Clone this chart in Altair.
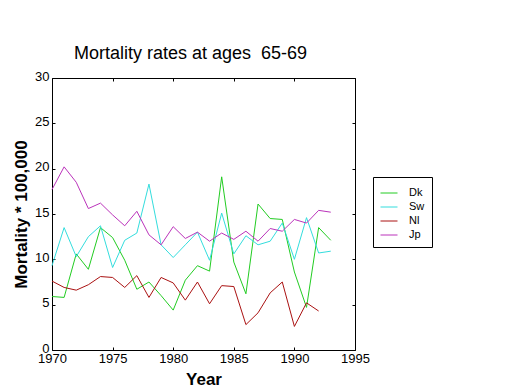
import altair as alt
import pandas as pd

years = list(range(1970, 1994))
countries = ["Dk", "Sw", "Nl", "Jp"]
colors = ["#22cc22", "#33dddd", "#aa1111", "#bb33bb"]

dk = [5.9, 5.8, 10.6, 8.9, 13.5, 12.4, 9.9, 6.7, 7.5, 6.0, 4.4, 7.7, 9.3, 8.7,
      19.1, 9.7, 6.2, 16.1, 14.5, 14.4, 8.6, 4.7, 13.5, 12.1]
sw = [9.3, 13.5, 10.3, 12.5, 13.7, 9.1, 12.1, 12.9, 18.3, 11.6, 10.2, 11.6, 13.0, 9.9,
      15.1, 10.6, 12.6, 11.6, 12.0, 14.0, 10.0, 14.6, 10.7, 10.9]
nl = [7.6, 6.9, 6.6, 7.2, 8.1, 8.0, 6.9, 8.2, 5.8, 8.0, 7.4, 5.5, 7.5, 5.1,
      7.1, 7.0, 2.8, 4.1, 6.3, 7.5, 2.6, 5.2, 4.3]
jp = [17.7, 20.2, 18.5, 15.6, 16.2, 14.9, 13.7, 15.3, 12.7, 11.6, 13.6, 12.3, 13.0, 12.0,
      12.9, 12.2, 13.1, 12.0, 13.4, 13.1, 14.4, 14.0, 15.4, 15.2]

x_ticks = [1970, 1975, 1980, 1985, 1990, 1995]
y_ticks = [0, 5, 10, 15, 20, 25, 30]

rows = []
for name, vals in zip(countries, [dk, sw, nl, jp]):
    for yr, v in zip(years, vals):
        rows.append({"year": yr, "value": v, "country": name})
df = pd.DataFrame(rows)

FONT = "Liberation Sans"

xscale = alt.Scale(domain=[1970, 1995], nice=False, zero=False)
yscale = alt.Scale(domain=[0, 30], nice=False)

lines = alt.Chart(df).mark_line(strokeWidth=1).encode(
    x=alt.X("year:Q", scale=xscale,
            axis=alt.Axis(orient="bottom", values=x_ticks, format="d", title="Year",
                          offset=-3, tickSize=3, domain=False, grid=False,
                          labelFlush=False, labelPadding=2, titlePadding=6,
                          titleFontSize=17, titleFontWeight="bold", labelFontSize=13)),
    y=alt.Y("value:Q", scale=yscale,
            axis=alt.Axis(orient="left", values=y_ticks, title="Mortality * 100,000",
                          offset=-3, tickSize=3, domain=False, grid=False,
                          labelFlush=False, labelPadding=3, titlePadding=4,
                          labelOffset=-2,
                          titleFontSize=17, titleFontWeight="bold", labelFontSize=13)),
    color=alt.Color("country:N", scale=alt.Scale(domain=countries, range=colors),
                    sort=countries,
                    legend=alt.Legend(title=None, orient="none", legendX=321, legendY=99,
                                      symbolType="stroke", symbolSize=289,
                                      symbolStrokeWidth=1, labelFontSize=11,
                                      labelOffset=11, padding=7, rowPadding=-3.5,
                                      fillColor="white", strokeColor="black",
                                      labelFont=FONT)),
)

frame = alt.Chart(df).mark_line(opacity=0).encode(
    x=alt.X("year:Q", scale=xscale,
            axis=alt.Axis(orient="top", values=x_ticks, labels=False, title=None,
                          offset=-3, tickSize=3, domain=False, grid=False)),
    y=alt.Y("value:Q", scale=yscale,
            axis=alt.Axis(orient="right", values=y_ticks, labels=False, title=None,
                          offset=-3, tickSize=3, domain=False, grid=False)),
    detail="country:N",
)

chart = alt.layer(lines, frame).resolve_axis(x="independent", y="independent").properties(
    width=303, height=272,
    title=alt.TitleParams("Mortality rates at ages\u00a0 65-69", fontSize=18,
                          fontWeight="normal", font=FONT, anchor="middle", dx=-13,
                          offset=18, dy=25, baseline="alphabetic", color="black"),
    autosize=alt.AutoSizeParams(type="none"),
    padding={"left": 44, "top": 70, "right": 157, "bottom": 40},
    background="white",
).configure_view(stroke="black", strokeWidth=1).configure_axis(
    labelFont=FONT, titleFont=FONT, labelColor="black", titleColor="black",
    tickColor="black", tickWidth=1,
).configure_legend(labelColor="black")

chart.save("out.html", embed_options={"renderer": "svg", "actions": False})
